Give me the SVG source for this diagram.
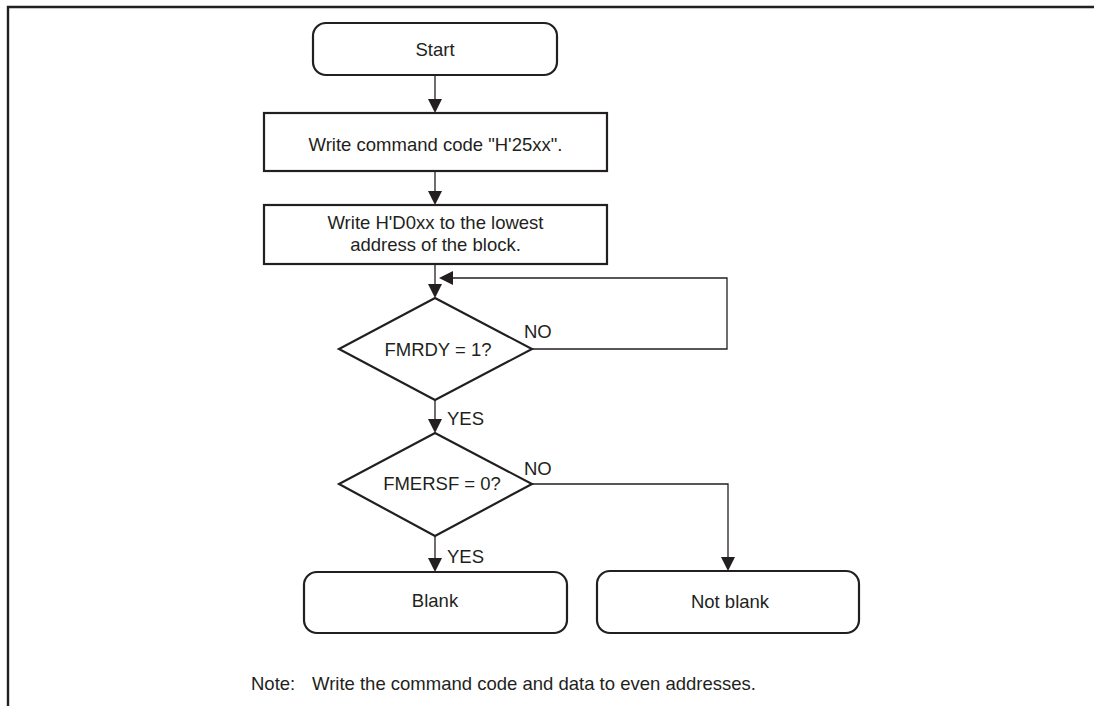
<svg xmlns="http://www.w3.org/2000/svg" width="1094" height="706" viewBox="0 0 1094 706">
<style>
.n{fill:#fff;stroke:#231f20;stroke-width:2.2}
.t{font-family:"Liberation Sans",Arial,sans-serif;font-size:18.5px;fill:#231f20}
.m{text-anchor:middle}
.c{fill:none;stroke:#231f20;stroke-width:1.3}
.h{fill:#231f20;stroke:none}
</style>
<rect width="1094" height="706" fill="#fff"/>
<path d="M8,706 V7 H1094" fill="none" stroke="#231f20" stroke-width="2.4"/>
<g id="connectors">
<path class="c" d="M435,75 V100"/>
<path class="h" d="M428,99 L442,99 L435,113 Z"/>
<path class="c" d="M435,171 V192"/>
<path class="h" d="M428,191 L442,191 L435,205 Z"/>
<path class="c" d="M435,264 V285"/>
<path class="h" d="M428,284 L442,284 L435,298 Z"/>
<path class="c" d="M532,349 H727 V278 H452"/>
<path class="h" d="M453,271 L453,285 L439,278 Z"/>
<path class="c" d="M435,400 V420"/>
<path class="h" d="M428,419 L442,419 L435,433 Z"/>
<path class="c" d="M435,536 V559"/>
<path class="h" d="M428,558 L442,558 L435,572 Z"/>
<path class="c" d="M532,484 H728 V558"/>
<path class="h" d="M721,557 L735,557 L728,571 Z"/>
<text class="t" x="524" y="338">NO</text>
<text class="t" x="447" y="425">YES</text>
<text class="t" x="524" y="475">NO</text>
<text class="t" x="447" y="563">YES</text>
</g>
<g id="start">
<rect class="n" x="313" y="23" width="244" height="52" rx="13"/>
<text class="t m" x="435" y="56">Start</text>
</g>
<g id="write-cmd">
<rect class="n" x="264" y="113" width="343" height="58"/>
<text class="t m" x="435.5" y="151">Write command code "H'25xx".</text>
</g>
<g id="write-d0">
<rect class="n" x="264" y="205" width="343" height="59"/>
<text class="t m" x="435.5" y="229">Write H'D0xx to the lowest</text>
<text class="t m" x="435.5" y="251">address of the block.</text>
</g>
<g id="fmrdy">
<polygon class="n" points="435,298 532,349 435,400 339,349"/>
<text class="t m" x="438" y="356">FMRDY = 1?</text>
</g>
<g id="fmersf">
<polygon class="n" points="435,433 532,484 435,536 339,484"/>
<text class="t m" x="442" y="490">FMERSF = 0?</text>
</g>
<g id="blank">
<rect class="n" x="304" y="572" width="263" height="61" rx="13"/>
<text class="t m" x="435" y="607">Blank</text>
</g>
<g id="not-blank">
<rect class="n" x="597" y="571" width="262" height="62" rx="13"/>
<text class="t m" x="730" y="608">Not blank</text>
</g>
<g id="note">
<text class="t" y="690"><tspan x="251">Note:</tspan><tspan x="312">Write the command code and data to even addresses.</tspan></text>
</g>
</svg>
